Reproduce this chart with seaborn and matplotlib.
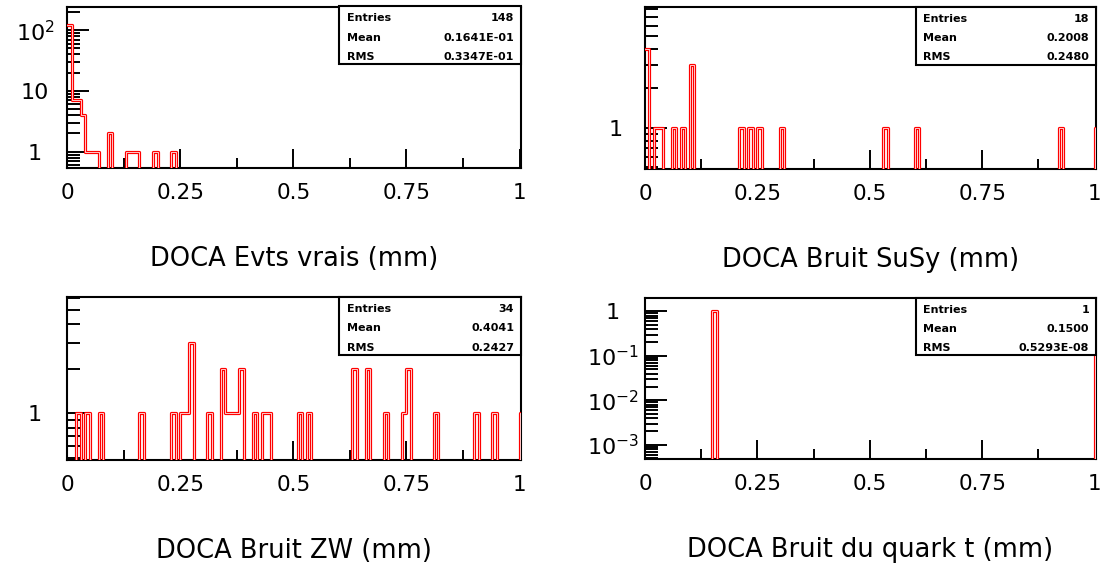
import numpy as np
import pandas as pd
import matplotlib
matplotlib.use("Agg")
import matplotlib.pyplot as plt
import seaborn as sns
from matplotlib.ticker import LogLocator, NullFormatter, FixedLocator
from matplotlib.patches import Rectangle

# ---- data: DOCA bin centres (mm) and counts, 0.01 mm bins ----
evts_doca = [0.005, 0.015, 0.025, 0.035, 0.045, 0.055, 0.065, 0.095,
             0.135, 0.145, 0.155, 0.195, 0.235]
evts_count = [120, 7, 7, 4, 1, 1, 1, 2, 1, 1, 1, 1, 1]

susy_doca = [0.005, 0.025, 0.035, 0.065, 0.085, 0.105, 0.215, 0.235,
             0.255, 0.305, 0.535, 0.605, 0.925, 1.005]
susy_count = [4, 1, 1, 1, 1, 3, 1, 1, 1, 1, 1, 1, 1, 1]

zw_doca = [0.025, 0.045, 0.075, 0.165, 0.235, 0.255, 0.265, 0.275, 0.315,
           0.345, 0.355, 0.365, 0.375, 0.385, 0.415, 0.435, 0.445, 0.515,
           0.535, 0.635, 0.665, 0.705, 0.745, 0.755, 0.815, 0.905, 0.945, 1.005]
zw_count = [1, 1, 1, 1, 1, 1, 1, 3, 1, 2, 1, 1, 1, 2, 1, 1, 1, 1,
            1, 2, 2, 1, 1, 2, 1, 1, 1, 1]

top_doca = [0.155, 1.005]
top_count = [1, 1]

titles = ["DOCA Evts vrais (mm)", "DOCA Bruit SuSy (mm)",
          "DOCA Bruit ZW (mm)", "DOCA Bruit du quark t (mm)"]
stats_labels = ["Entries", "Mean", "RMS"]
stats_values = [["148", "0.1641E-01", "0.3347E-01"],
                ["18", "0.2008", "0.2480"],
                ["34", "0.4041", "0.2427"],
                ["1", "0.1500", "0.5293E-08"]]
ylims = [(0.54, 245), (0.486, 8.3), (0.489, 6.1), (4.8e-4, 2.0)]
ymajor = [[1, 10, 100], [1], [1], [1e-3, 1e-2, 1e-1, 1]]
ymajor_labels = [["1", "10", r"$10^{2}$"], ["1"], ["1"],
                 [r"$10^{-3}$", r"$10^{-2}$", r"$10^{-1}$", "1"]]
xticks = [0, 0.25, 0.5, 0.75, 1]
xtick_labels = ["0", "0.25", "0.5", "0.75", "1"]
xminor = [0.125, 0.375, 0.625, 0.875]

sns.set_theme(style="white")
plt.rcParams["font.family"] = ["DejaVu Sans"]
plt.rcParams["mathtext.default"] = "regular"
for key in ("text.color", "axes.labelcolor", "xtick.color", "ytick.color",
            "axes.edgecolor"):
    plt.rcParams[key] = "black"

fig = plt.figure(figsize=(11.02, 5.65), dpi=100)
W, H = 1102, 565
boxes = [(67, 6.5, 521, 168), (645, 7, 1096, 169),
         (67, 297, 521, 459.5), (645, 298, 1096, 459)]

datasets = [(evts_doca, evts_count), (susy_doca, susy_count),
            (zw_doca, zw_count), (top_doca, top_count)]

for i, (l, t, r, b) in enumerate(boxes):
    ax = fig.add_axes([l / W, 1 - b / H, (r - l) / W, (b - t) / H])
    doca, cnt = datasets[i]
    df = pd.DataFrame({"doca": doca, "n": cnt})
    for col, lw, z in (("#ff0000", 2.3, 3), ("#ffc8c8", 0.7, 3.1)):
        sns.histplot(data=df, x="doca", weights="n", binwidth=0.01,
                     binrange=(0, 1.01), element="step", fill=False,
                     color=col, linewidth=lw, zorder=z, ax=ax)
    ax.set_yscale("log")
    ax.set_xlim(0, 1.003)
    ax.set_ylim(*ylims[i])
    ax.set_ylabel("")
    ax.set_xlabel(titles[i], fontsize=18.5, labelpad=31)

    ax.set_xticks(xticks, labels=xtick_labels)
    ax.xaxis.set_minor_locator(FixedLocator(xminor))
    ax.set_yticks(ymajor[i], labels=ymajor_labels[i])
    ax.yaxis.set_minor_locator(LogLocator(base=10, subs=np.arange(2, 10), numticks=60))
    ax.yaxis.set_minor_formatter(NullFormatter())
    ax.set_ylim(*ylims[i])

    ax.tick_params(axis="both", which="both", direction="in", top=False,
                   right=False, left=True, bottom=True, color="black")
    ax.tick_params(axis="x", which="major", length=13.5, width=1.4, pad=11,
                   labelsize=15.5)
    ax.tick_params(axis="x", which="minor", length=7, width=1.4)
    ax.tick_params(axis="y", which="major", length=16, width=1.4,
                   pad=23 if i != 1 else 21, labelsize=16)
    ax.tick_params(axis="y", which="minor", length=9, width=1.4)
    plt.setp(ax.get_yticklabels(), ha="center")

    for s in ax.spines.values():
        s.set_visible(True)
        s.set_color("black")
        s.set_linewidth(1.5)
        s.set_zorder(1)

    # statistics box
    ax.add_patch(Rectangle((0.60, 0.645), 0.40, 0.355, transform=ax.transAxes,
                           facecolor="white", edgecolor="black", lw=1.5,
                           zorder=6, clip_on=False))
    for j, (lab, val) in enumerate(zip(stats_labels, stats_values[i])):
        yy = 0.927 - j * 0.119
        ax.text(0.617, yy, lab, transform=ax.transAxes, fontsize=8,
                fontweight="bold", va="center", ha="left", zorder=7)
        ax.text(0.985, yy, val, transform=ax.transAxes, fontsize=8,
                fontweight="bold", va="center", ha="right", zorder=7)

fig.savefig("out.png", dpi=100, facecolor="white")
